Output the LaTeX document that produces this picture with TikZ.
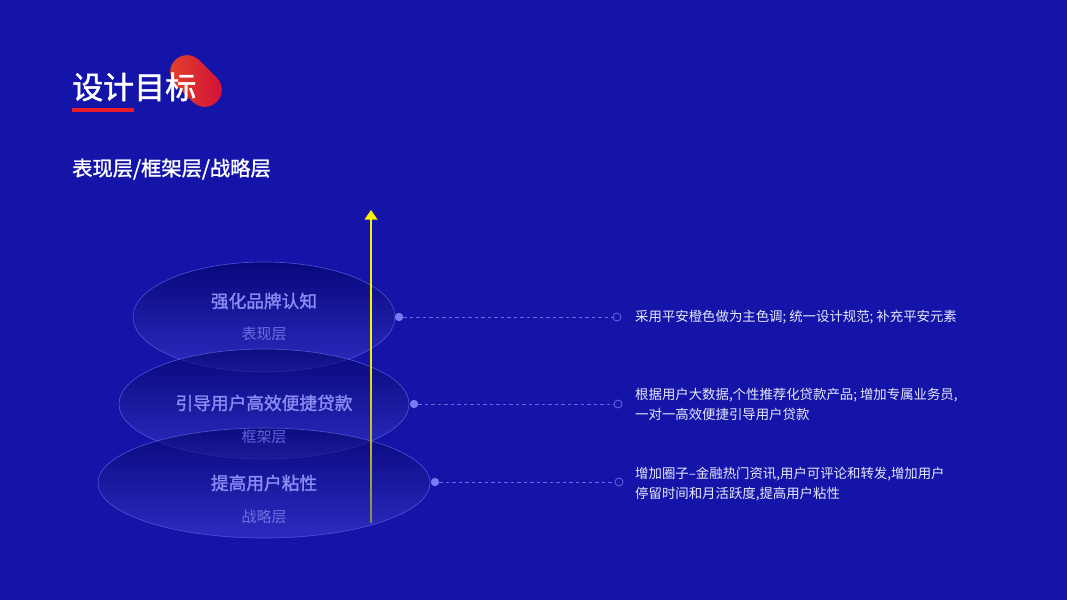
\documentclass[tikz,border=0pt]{standalone}
\usepackage{fontspec}
\setmainfont{Noto Sans CJK SC}
\newfontfamily\semifont[FakeBold=1.4]{Noto Sans CJK SC}
\usetikzlibrary{shapes.geometric}
\definecolor{bg}{RGB}{20,20,168}
\definecolor{ytop}{RGB}{255,242,0}
\definecolor{eltop}{RGB}{0,0,96}
\definecolor{elbot}{RGB}{60,60,210}
\definecolor{elborder}{RGB}{82,82,214}
\definecolor{maintxt}{RGB}{140,140,245}
\definecolor{subtxt}{RGB}{110,110,228}
\definecolor{subdim}{RGB}{96,96,222}
\definecolor{dotc}{RGB}{122,122,245}
\definecolor{dashc}{RGB}{104,104,222}
\definecolor{desc}{RGB}{232,232,252}
\definecolor{pillA}{RGB}{226,70,40}
\definecolor{pillB}{RGB}{208,12,58}
\definecolor{barred}{RGB}{232,28,40}
\pgfdeclareverticalshading{yfade}{100bp}{color(0bp)=(bg); color(25bp)=(ytop!50!bg); color(55bp)=(ytop); color(100bp)=(ytop)}
\tikzset{
  layer/.style={ellipse, draw=elborder, line width=0.6pt, top color=eltop, bottom color=elbot, fill opacity=0.6, inner sep=0pt, minimum height=110pt},
  maintext/.style={text=maintxt, font=\semifont\fontsize{17.7}{18}\selectfont, inner sep=0pt},
  subtext/.style={text=subtxt, font=\fontsize{15}{16}\selectfont, inner sep=0pt},
  dotnode/.style={circle, fill=dotc, inner sep=0pt, minimum size=8.4pt},
  ringnode/.style={circle, draw=dashc, line width=0.8pt, inner sep=0pt, minimum size=8pt},
  dashline/.style={draw=dashc, line width=0.8pt, dash pattern=on 3.5pt off 3pt},
  desctext/.style={text=desc, font=\fontsize{13.4}{20}\selectfont, anchor=west, align=left, inner sep=0pt}
}
\begin{document}
\begin{tikzpicture}[x=1pt,y=-1pt]
\useasboundingbox (0,0) rectangle (1067,600);
\fill[bg] (0,0) rectangle (1067,600);

% title decoration pill
\begin{scope}[shift={(196,81)}, rotate=-45]
\shade[left color=pillA, right color=pillB, rounded corners=17pt] (-29.5pt,-17pt) rectangle (29.5pt,17pt);
\end{scope}
\fill[barred] (72,107.5) rectangle (134,111.5);
\node[anchor=west, inner sep=0pt, text=white, font=\semifont\fontsize{31}{32}\selectfont] (title) at (72,87) {设计目标};
\node[anchor=west, inner sep=0pt, text=white, font=\semifont\fontsize{20.3}{21}\selectfont] (subtitle) at (72,169) {表现层/框架层/战略层};

% layers
\node[layer, minimum width=262pt] (e1) at (264,317) {};
\node[layer, minimum width=290pt] (e2) at (264,404) {};
\node[layer, minimum width=332pt] (e3) at (264,483) {};
\node[maintext] (m1) at (264,301) {强化品牌认知};
\node[subtext] (s1) at (264,334) {表现层};
\node[maintext] (m2) at (264,403) {引导用户高效便捷贷款};
\node[subtext, text=subdim] (s2) at (264,437) {框架层};
\node[maintext] (m3) at (264,483) {提高用户粘性};
\node[subtext] (s3) at (264,517) {战略层};

% yellow arrow
\coordinate (abot) at (371,522);
\coordinate (atop) at (371,210);
\shade[shading=yfade] (370.2,522) rectangle (371.8,218);
\fill[ytop] (atop) -- (377.5,219.5) -- (364.5,219.5) -- cycle;

% connectors
\node[dotnode] (d1) at (399,317) {};
\node[ringnode] (r1) at (617,317) {};
\node[dotnode] (d2) at (414,404) {};
\node[ringnode] (r2) at (618,404) {};
\node[dotnode] (d3) at (435,482) {};
\node[ringnode] (r3) at (619,482) {};
\draw[dashline] (d1) -- (r1);
\draw[dashline] (d2) -- (r2);
\draw[dashline] (d3) -- (r3);

\node[desctext] (t1) at (635,317) {采用平安橙色做为主色调; 统一设计规范; 补充平安元素};
\node[desctext] (t2) at (635,404) {根据用户大数据,个性推荐化贷款产品; 增加专属业务员,\\一对一高效便捷引导用户贷款};
\node[desctext] (t3) at (635,484) {增加圈子–金融热门资讯,用户可评论和转发,增加用户\\停留时间和月活跃度,提高用户粘性};
\end{tikzpicture}
\end{document}
